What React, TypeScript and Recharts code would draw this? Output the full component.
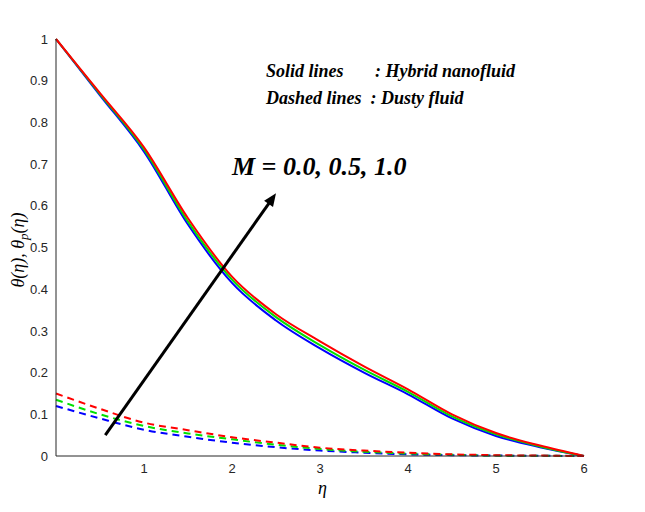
import React from 'react';
import { ComposedChart, Line, XAxis, YAxis, ReferenceLine } from 'recharts';

const eta = [0, 0.5, 1, 1.5, 2, 2.5, 3, 3.5, 4, 4.5, 5, 5.5, 6];
const solidM0 = [1, 0.865, 0.73, 0.555, 0.415, 0.325, 0.258, 0.2, 0.148, 0.09, 0.048, 0.021, 0];
const solidM05 = [1, 0.868, 0.735, 0.562, 0.423, 0.333, 0.266, 0.207, 0.154, 0.095, 0.052, 0.023, 0];
const solidM1 = [1, 0.87, 0.74, 0.57, 0.43, 0.34, 0.275, 0.215, 0.16, 0.1, 0.055, 0.025, 0];
const dustyM0 = [0.12, 0.09, 0.063, 0.046, 0.032, 0.021, 0.013, 0.008, 0.004, 0.002, 0.001, 0.0005, 0];
const dustyM05 = [0.135, 0.1, 0.072, 0.054, 0.04, 0.027, 0.017, 0.01, 0.006, 0.003, 0.001, 0.0005, 0];
const dustyM1 = [0.15, 0.113, 0.08, 0.062, 0.045, 0.032, 0.02, 0.013, 0.008, 0.004, 0.002, 0.001, 0];
const xTicks = [1, 2, 3, 4, 5, 6];
const yTicks = [0, 0.1, 0.2, 0.3, 0.4, 0.5, 0.6, 0.7, 0.8, 0.9, 1];

const data = eta.map((e, i) => ({
  eta: e, s0: solidM0[i], s05: solidM05[i], s1: solidM1[i],
  d0: dustyM0[i], d05: dustyM05[i], d1: dustyM1[i],
}));

const RED = '#ff0000';
const GREEN = '#00e000';
const BLUE = '#0000ff';
const tickStyle = { fill: '#262626', fontSize: 13, fontFamily: 'Liberation Sans, Arial' };
const noLabel = () => <g />;
const serif = 'Liberation Serif, Times New Roman, serif';

export default function App() {
  return (
    <div style={{ position: 'relative', width: 645, height: 512, margin: -8, background: '#fff' }}>
      <ComposedChart width={645} height={512} data={data} margin={{ top: 39, right: 61, bottom: 26, left: 26 }}>
        <XAxis dataKey="eta" type="number" domain={[0, 6]} ticks={xTicks} height={30} tickLine={false} stroke="#262626" tick={tickStyle} />
        <XAxis xAxisId="bt" dataKey="eta" type="number" domain={[0, 6]} ticks={xTicks} height={0} mirror tickSize={5} tick={noLabel} stroke="#262626" />
        <XAxis xAxisId="top" orientation="top" dataKey="eta" type="number" domain={[0, 6]} ticks={xTicks} height={0} mirror tickSize={5} tick={noLabel} stroke="#262626" />
        <YAxis type="number" domain={[0, 1]} ticks={yTicks} width={30} tickLine={false} stroke="#262626" tick={tickStyle} />
        <YAxis yAxisId="lt" type="number" domain={[0, 1]} ticks={yTicks} width={0} mirror tickSize={5} tick={noLabel} stroke="#262626" />
        <YAxis yAxisId="rt" orientation="right" type="number" domain={[0, 1]} ticks={yTicks} width={0} mirror tickSize={5} tick={noLabel} stroke="#262626" />
        <Line dataKey="s0" type="monotone" stroke={BLUE} strokeWidth={2} dot={false} isAnimationActive={false} />
        <Line dataKey="s05" type="monotone" stroke={GREEN} strokeWidth={2} dot={false} isAnimationActive={false} />
        <Line dataKey="s1" type="monotone" stroke={RED} strokeWidth={2} dot={false} isAnimationActive={false} />
        <Line dataKey="d0" type="monotone" stroke={BLUE} strokeWidth={2} strokeDasharray="7 5" dot={false} isAnimationActive={false} />
        <Line dataKey="d05" type="monotone" stroke={GREEN} strokeWidth={2} strokeDasharray="7 5" dot={false} isAnimationActive={false} />
        <Line dataKey="d1" type="monotone" stroke={RED} strokeWidth={2} strokeDasharray="7 5" dot={false} isAnimationActive={false} />
        <ReferenceLine
          segment={[{ x: 0.56, y: 0.05 }, { x: 2.5, y: 0.63 }]}
          shape={(p: any) => {
            const { x1, y1, x2, y2 } = p;
            const a = Math.atan2(y2 - y1, x2 - x1);
            const L = 14, w = 0.4;
            return (
              <g>
                <line x1={x1} y1={y1} x2={x2 - Math.cos(a) * 8} y2={y2 - Math.sin(a) * 8} stroke="#000" strokeWidth={3} />
                <polygon
                  points={`${x2},${y2} ${x2 - L * Math.cos(a - w)},${y2 - L * Math.sin(a - w)} ${x2 - L * Math.cos(a + w)},${y2 - L * Math.sin(a + w)}`}
                  fill="#000"
                />
              </g>
            );
          }}
        />
      </ComposedChart>
      <div style={{ position: 'absolute', left: 266, top: 58, fontFamily: serif, fontStyle: 'italic', fontWeight: 'bold', fontSize: 18, lineHeight: '27px', whiteSpace: 'pre' }}>
        {'Solid lines       : Hybrid nanofluid\nDashed lines  : Dusty fluid'}
      </div>
      <div style={{ position: 'absolute', left: 232, top: 152, fontFamily: serif, fontStyle: 'italic', fontWeight: 'bold', fontSize: 26, whiteSpace: 'pre' }}>
        M = 0.0, 0.5, 1.0
      </div>
      <div style={{ position: 'absolute', left: 318, top: 478, fontFamily: serif, fontStyle: 'italic', fontSize: 18 }}>η</div>
      <div style={{ position: 'absolute', left: 20, top: 250, transform: 'translate(-50%, -50%) rotate(-90deg)', fontFamily: serif, fontStyle: 'italic', fontSize: 18, whiteSpace: 'pre' }}>
        θ(η), θ<sub style={{ fontSize: 13 }}>p</sub>(η)
      </div>
    </div>
  );
}
